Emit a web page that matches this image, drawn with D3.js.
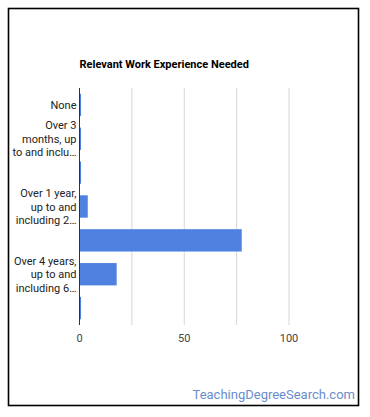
<!DOCTYPE html>
<html>
<head>
<meta charset="utf-8">
<script src="https://cdn.jsdelivr.net/npm/d3@7"></script>
<style>
  body { margin: 0; background: #fff; font-family: Roboto, Arial, sans-serif; }
</style>
</head>
<body>
<div id="chart"></div>
<script>
// data
const categories = [
    "None",
    "Over 3 months, up to and including 6 months",
    "Over 6 months, up to and including 1 year",
    "Over 1 year, up to and including 2 years",
    "Over 2 years, up to and including 4 years",
    "Over 4 years, up to and including 6 years",
    "Over 6 years, up to and including 8 years"
];
const values = [0.5, 0.5, 0.5, 3.7, 77.2, 17.5, 0.5];
// label lines as Google Charts shows them (empty = skipped label)
const labelLines = [
    ["None"],
    ["Over 3", "months, up", "to and inclu…"],
    [],
    ["Over 1 year,", "up to and", "including 2…"],
    [],
    ["Over 4 years,", "up to and", "including 6…"],
    []
];
const xTicks = [0, 50, 100];
const gridTicks = [0, 25, 50, 75, 100];

const W = 370, H = 417;
const margin = {top: 88, left: 79.5, right: 81, bottom: 92};
const width = W - margin.left - margin.right;
const height = H - margin.top - margin.bottom;

const svg = d3.select("#chart").append("svg")
    .attr("width", W)
    .attr("height", H);

// outer frame
svg.append("rect")
    .attr("x", 8.5).attr("y", 8.5)
    .attr("width", 350).attr("height", 397)
    .attr("fill", "#fff")
    .attr("stroke", "#000")
    .attr("stroke-width", 1.6);

const g = svg.append("g")
    .attr("transform", `translate(${margin.left},${margin.top})`);

const x = d3.scaleLinear().domain([0, 100]).range([0, 209.5]);
const y = d3.scaleBand().domain(categories).range([0, height]).paddingInner(0.34).paddingOuter(0.17);

// title
svg.append("text")
    .attr("x", margin.left)
    .attr("y", 68)
    .attr("font-size", 11)
    .attr("font-weight", "bold")
    .attr("fill", "#000")
    .text("Relevant Work Experience Needed");

// gridlines
g.selectAll(".grid")
    .data(gridTicks.slice(1))
    .enter().append("line")
    .attr("class", "grid")
    .attr("x1", d => x(d)).attr("x2", d => x(d))
    .attr("y1", 0).attr("y2", height)
    .attr("stroke", "#d6d6d6")
    .attr("stroke-width", 1);

// bars
g.selectAll(".bar")
    .data(values)
    .enter().append("rect")
    .attr("class", "bar")
    .attr("x", 0.5)
    .attr("y", (d, i) => y(categories[i]))
    .attr("width", d => Math.max(1, x(d)))
    .attr("height", y.bandwidth())
    .attr("fill", "#4f82e0");

// baseline
g.append("line")
    .attr("x1", 0).attr("x2", 0)
    .attr("y1", 0).attr("y2", height)
    .attr("stroke", "#333")
    .attr("stroke-width", 1);

// y labels
const lineH = 13.5;
labelLines.forEach((lines, i) => {
    const cy = y(categories[i]) + y.bandwidth() / 2;
    const t = g.append("text")
        .attr("text-anchor", "end")
        .attr("font-size", 11)
        .attr("fill", "#222");
    lines.forEach((l, j) => {
        t.append("tspan")
            .attr("x", -3)
            .attr("y", cy + (j - (lines.length - 1) / 2) * lineH + 4)
            .text(l);
    });
});

// x tick labels
g.selectAll(".xtick")
    .data(xTicks)
    .enter().append("text")
    .attr("class", "xtick")
    .attr("x", d => x(d))
    .attr("y", height + 17)
    .attr("text-anchor", "middle")
    .attr("font-size", 11)
    .attr("fill", "#444")
    .text(d => d);

// watermark
svg.append("text")
    .attr("x", 355)
    .attr("y", 399)
    .attr("text-anchor", "end")
    .attr("font-size", 13)
    .attr("fill", "#6a8dcc")
    .text("TeachingDegreeSearch.com");
</script>
</body>
</html>
